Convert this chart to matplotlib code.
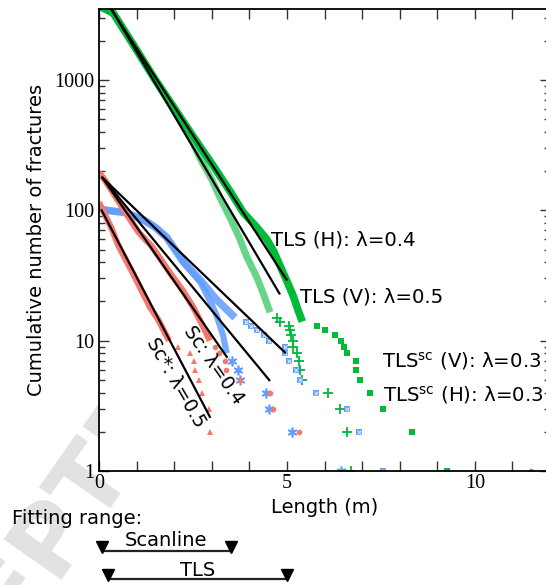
import matplotlib.pyplot as plt
from matplotlib.transforms import blended_transform_factory
from matplotlib.ticker import MultipleLocator, LogLocator, NullFormatter

# dense parts of the cumulative curves
tls_h_band_x = [0.0, 0.38, 1.0, 1.5, 2.0, 2.5, 3.0, 3.5, 3.84, 4.2, 4.46, 4.64, 4.99, 5.17, 5.30, 5.41]
tls_h_band_y = [3700, 3250, 1700, 1000, 610, 370, 228, 138, 96, 74, 60, 49, 29, 22, 17, 14]
tls_v_band_x = [0.0, 0.38, 1.0, 1.5, 2.0, 2.5, 2.69, 3.0, 3.22, 3.5, 3.75, 3.93, 4.19, 4.37, 4.55]
tls_v_band_y = [3700, 3250, 1690, 980, 580, 330, 250, 172, 125, 86, 60, 44, 31, 23, 16.5]
sch_band_x = [0.0, 0.2, 0.7, 1.2, 1.5, 1.8, 2.25, 2.7, 3.1, 3.62]
sch_band_y = [103, 100, 96, 84, 74, 62, 40, 29, 21, 15]
scv_band_x = [0.0, 0.2, 0.7, 1.2, 1.5, 1.8, 2.25, 2.7, 3.0, 3.15, 3.3, 3.40]
scv_band_y = [103, 100, 96, 84, 74, 62, 40, 28, 19, 15, 11, 8]
sc_band_x = [0.0, 0.16, 0.47, 0.75, 1.05, 1.40, 1.67, 1.89, 2.24, 2.51, 2.82, 2.95]
sc_band_y = [195, 170, 123, 92, 68, 53, 41, 33, 24, 18, 12, 10]
scs_band_x = [0.0, 0.34, 0.51, 0.9, 1.36, 1.58, 1.86]
scs_band_y = [115, 72, 54, 33, 18, 14.4, 10]

# sparse tails: length of each fracture and its cumulative rank
tls_h_x = [5.79, 6.02, 6.27, 6.44, 6.53, 6.60, 6.84, 6.84, 6.94, 7.22, 7.55, 8.33, 9.26]
tls_h_n = [13, 12, 11, 10, 9, 8, 7, 6, 5, 4, 3, 2, 1]
tls_v_x = [4.73, 4.81, 5.05, 5.08, 5.12, 5.15, 5.17, 5.27, 5.33, 5.35, 5.39, 6.10, 6.41, 6.60, 6.70]
tls_v_n = [15, 14, 13, 12, 11, 10, 9, 8, 7, 6, 5, 4, 3, 2, 1]
sch_x = [3.91, 4.04, 4.21, 4.39, 4.53, 4.95, 4.96, 5.06, 5.24, 5.35, 5.77, 6.60, 6.92, 7.56]
sch_n = [14, 13, 12, 11, 10, 9, 8, 7, 6, 5, 4, 3, 2, 1]
scv_x = [3.53, 3.69, 3.75, 4.44, 4.53, 5.14, 6.45]
scv_n = [7, 6, 5, 4, 3, 2, 1]
sc_x = [3.08, 3.20, 3.35, 3.38, 3.75, 4.55, 4.64, 5.33, 11.5]
sc_n = [9, 8, 7, 6, 5, 4, 3, 2, 1]
scs_x = [2.10, 2.42, 2.53, 2.55, 2.66, 2.73, 2.93, 2.95, 11.5]
scs_n = [9, 8, 7, 6, 5, 4, 3, 2, 1]

# exponential fits (end points)
fits = {
    'tls_h': ([0.24, 4.99], [3810, 29.4]),
    'tls_v': ([0.24, 4.80], [3870, 23]),
    'sc': ([0.09, 3.40], [178, 7.5]),
    'sc_v': ([0.09, 4.53], [178, 4.98]),
    'sc_h': ([0.09, 4.95], [178, 8.1]),
    'sc_star': ([0.07, 2.95], [100, 2.6]),
}

fit_ranges = {'Scanline': (0.08, 3.5), 'TLS': (0.24, 5.0)}

RED = '#F8766D'
GREEN = '#00BA38'
BLUE = '#619CFF'

fig = plt.figure(figsize=(5.46, 5.85), dpi=100)
ax = fig.add_axes([99 / 546, 114 / 585, 451 / 546, 462 / 585])

# watermark behind the axes
fig.text(35 / 546, 1 - 570 / 585, 'ACCEPTED', rotation=55, fontsize=70, fontweight='bold',
         color='#e2e2e2', ha='center', va='center', rotation_mode='anchor', zorder=-5)

# dense bands
ax.plot(tls_v_band_x, tls_v_band_y, color=GREEN, lw=5, alpha=0.6, solid_capstyle='butt')
ax.plot(tls_h_band_x, tls_h_band_y, color=GREEN, lw=5.5, solid_capstyle='butt')
ax.plot(sch_band_x, sch_band_y, color=BLUE, lw=5.5, alpha=0.85, solid_capstyle='butt')
ax.plot(scv_band_x, scv_band_y, color=BLUE, lw=4.5, alpha=0.85, solid_capstyle='butt')
ax.plot(sc_band_x, sc_band_y, color=RED, lw=4.5, solid_capstyle='butt')
ax.plot(scs_band_x, scs_band_y, color=RED, lw=4.5, solid_capstyle='butt')

# tails
ax.plot(tls_v_x, tls_v_n, '+', color=GREEN, ms=7, mew=1.3)
ax.plot(tls_h_x, tls_h_n, 's', color=GREEN, ms=4.5, mew=0)
ax.plot(sch_x, sch_n, 's', color=BLUE, ms=5, mew=0)
ax.plot(sch_x, sch_n, 'x', color='#d6e4ff', ms=3, mew=0.8)
ax.plot(scv_x, scv_n, marker=(6, 2, 0), ls='none', color=BLUE, ms=7, mew=1.2)
ax.plot(sc_x, sc_n, 'o', color=RED, ms=4, mew=0)
ax.plot(scs_x, scs_n, '^', color=RED, ms=5, mew=0)

for fx, fy in fits.values():
    ax.plot(fx, fy, color='black', lw=1.6)

ax.set_yscale('log')
ax.set_xlim(0, 12)
ax.set_ylim(1, 3500)

serif = 'Liberation Serif'
ax.set_xticks([0, 5, 10])
ax.set_xticklabels(['0', '5', '10'], fontfamily=serif, fontsize=14.5)
ax.xaxis.set_minor_locator(MultipleLocator(1))
ax.set_yticks([1, 10, 100, 1000])
ax.set_yticklabels(['1', '10', '100', '1000'], fontfamily=serif, fontsize=14.5)
ax.yaxis.set_minor_locator(LogLocator(base=10, subs=range(2, 10)))
ax.yaxis.set_minor_formatter(NullFormatter())
ax.tick_params(which='both', direction='in', top=True, right=True, width=1, color='#333333')
ax.tick_params(axis='x', which='both', length=7, pad=2)
ax.tick_params(axis='y', which='major', length=7, pad=3)
ax.tick_params(axis='y', which='minor', length=4)
for s in ax.spines.values():
    s.set_linewidth(1.3)

ax.set_xlabel('Length (m)', fontsize=14, labelpad=4)
ax.set_ylabel('Cumulative number of fractures', fontsize=14, labelpad=6)

lab = 14.2
ax.text(4.57, 59, 'TLS (H): λ=0.4', fontsize=lab, ha='left', va='center')
ax.text(5.35, 21.5, 'TLS (V): λ=0.5', fontsize=lab, ha='left', va='center')
ax.text(7.52, 7.0, r'TLS$^{\mathrm{sc}}$ (V): λ=0.3', fontsize=lab, ha='left', va='center')
ax.text(7.56, 3.82, r'TLS$^{\mathrm{sc}}$ (H): λ=0.3', fontsize=lab, ha='left', va='center')
ax.text(3.06, 6.5, 'Sc: λ=0.4', fontsize=13.5, rotation=-55, rotation_mode='anchor',
        ha='center', va='center')
ax.text(2.05, 4.72, 'Sc*: λ=0.5', fontsize=13.5, rotation=-60, rotation_mode='anchor',
        ha='center', va='center')

# fitting range sketch under the axes
fig.text(12 / 546, 1 - 519 / 585, 'Fitting range:', fontsize=14, ha='left', va='center')
tr = blended_transform_factory(ax.transData, fig.transFigure)
rows = {'Scanline': (1 - 551 / 585, 1 - 541 / 585), 'TLS': (1 - 579 / 585, 1 - 571 / 585)}
for name, (x0, x1) in fit_ranges.items():
    yl, yt = rows[name]
    ax.plot([x0, x1], [yl, yl], color='#222222', lw=1.6, transform=tr, clip_on=False)
    ax.plot([x0, x1], [yl + 0.006, yl + 0.006], 'v', color='black', ms=9, transform=tr, clip_on=False)
    ax.text((x0 + x1) / 2, yt, name, fontsize=14, ha='center', va='center', transform=tr)

fig.savefig('out.png', dpi=100)
